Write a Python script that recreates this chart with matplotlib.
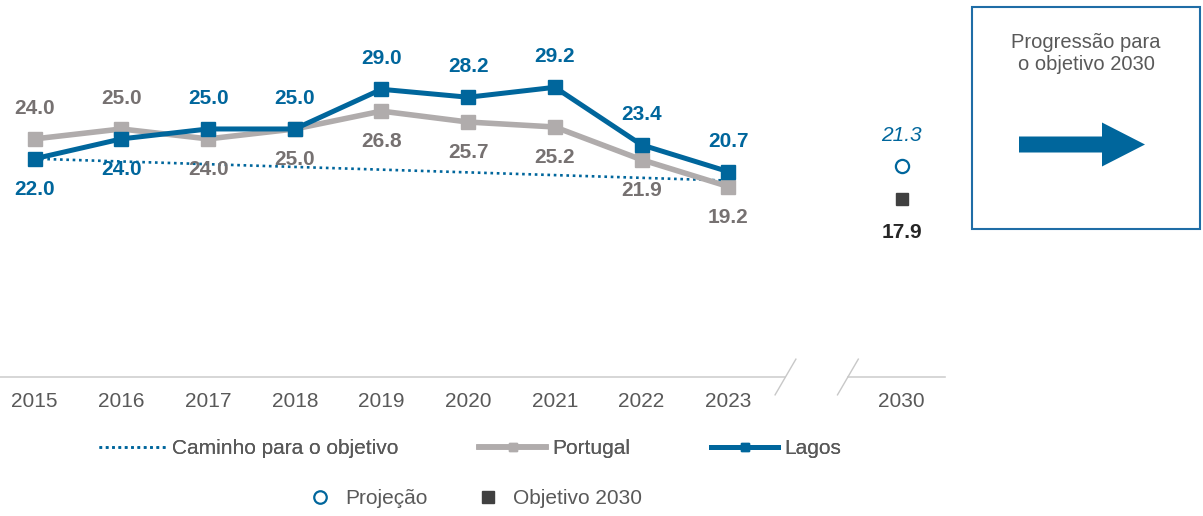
"""
Lagos vs Portugal indicator, 2015-2023, with the 2030 projection and target.
"""

import matplotlib
matplotlib.use("Agg")
import matplotlib.pyplot as plt
from matplotlib.lines import Line2D
from matplotlib.patches import Rectangle, FancyArrow


PALETTE = {
    "lagos":    "#00669C",
    "portugal": "#B0ACAC",
    "pt_text":  "#767171",
    "target":   "#404040",
    "axis":     "#D0D0D0",
    "text":     "#595959",
}

plt.rcParams.update({
    "font.family": ["Liberation Sans", "DejaVu Sans"],
    "font.size": 15,
})

W, H = 1203, 516

# ---------------------------------------------------------------------------
# Data
# ---------------------------------------------------------------------------

YEARS = ["2015", "2016", "2017", "2018", "2019", "2020", "2021", "2022", "2023"]
LAGOS = [22.0, 24.0, 25.0, 25.0, 29.0, 28.2, 29.2, 23.4, 20.7]
PORTUGAL = [24.0, 25.0, 24.0, 25.0, 26.8, 25.7, 25.2, 21.9, 19.2]
PATH_YEARS = ["2015", "2023"]
PATH_VALUES = [22.0, 19.8]
TARGET_YEAR = "2030"
PROJECTION_2030 = 21.3
TARGET_2030 = 17.9

DOTTED = (0, (1, 1.4))


def main() -> None:
    fig = plt.figure(figsize=(W / 100, H / 100), dpi=100)
    ax = fig.add_axes([0, 1 - 377 / H, 945 / W, 377 / H])

    x = list(range(len(YEARS)))
    x_path = [YEARS.index(y) for y in PATH_YEARS]
    x_2030 = len(YEARS) + 1

    ax.plot(x_path, PATH_VALUES, color=PALETTE["lagos"], lw=1.9,
            linestyle=DOTTED, zorder=2)
    ax.plot(x, PORTUGAL, color=PALETTE["portugal"], lw=4, marker="s",
            markersize=10, zorder=3)
    ax.plot(x, LAGOS, color=PALETTE["lagos"], lw=3.6, marker="s",
            markersize=10, zorder=4)
    ax.plot([x_2030], [PROJECTION_2030], linestyle="none", marker="o",
            markersize=9.5, markerfacecolor="white",
            markeredgecolor=PALETTE["lagos"], markeredgewidth=1.6, zorder=4)
    ax.plot([x_2030], [TARGET_2030], linestyle="none", marker="s",
            markersize=8.5, color=PALETTE["target"], zorder=4)

    # value labels: Lagos above when it leads, Portugal on the other side
    off = 22
    for i, (lg, pt) in enumerate(zip(LAGOS, PORTUGAL)):
        up = lg >= pt
        ax.annotate(f"{lg:.1f}", (i, lg), xytext=(0, off if up else -off),
                    textcoords="offset points", ha="center", va="center",
                    color=PALETTE["lagos"], fontweight="bold", fontsize=15)
        ax.annotate(f"{pt:.1f}", (i, pt), xytext=(0, -off if up else off),
                    textcoords="offset points", ha="center", va="center",
                    color=PALETTE["pt_text"], fontweight="bold", fontsize=15)
    ax.annotate(f"{PROJECTION_2030:.1f}", (x_2030, PROJECTION_2030),
                xytext=(0, off), textcoords="offset points", ha="center",
                va="center", color=PALETTE["lagos"], style="italic", fontsize=15)
    ax.annotate(f"{TARGET_2030:.1f}", (x_2030, TARGET_2030),
                xytext=(0, -24), textcoords="offset points", ha="center",
                va="center", color="#262626", fontweight="bold", fontsize=15)

    ax.set_xlim(-0.4, 10.5)
    ax.set_ylim(0, 38)
    for s in ax.spines.values():
        s.set_visible(False)
    ax.set_yticks([])
    ax.set_xticks(x + [x_2030], YEARS + [TARGET_YEAR])
    ax.tick_params(axis="x", length=0, pad=11, colors=PALETTE["text"],
                   labelsize=15)

    # broken axis line between 2023 and 2030
    brk = [8.66, 9.38]
    ax.plot([-0.4, brk[0]], [0, 0], color=PALETTE["axis"], lw=1.2, clip_on=False)
    ax.plot([brk[1], 10.5], [0, 0], color=PALETTE["axis"], lw=1.2, clip_on=False)
    for b in brk:
        ax.plot([b - 0.12, b + 0.12], [-1.8, 1.8], color="#C8C8C8", lw=1,
                clip_on=False)

    # legends
    leg1 = [
        Line2D([], [], color=PALETTE["lagos"], lw=1.9, linestyle=DOTTED,
               label="Caminho para o objetivo"),
        Line2D([], [], color=PALETTE["portugal"], lw=4, marker="s",
               markersize=6, label="Portugal"),
        Line2D([], [], color=PALETTE["lagos"], lw=3.6, marker="s",
               markersize=6, label="Lagos"),
    ]
    l1 = fig.legend(handles=leg1, loc="center", bbox_to_anchor=(470 / W, 1 - 449 / H),
                    ncol=3, frameon=False, fontsize=15, handlelength=3.2,
                    handletextpad=0.3, columnspacing=3.9, labelcolor=PALETTE["text"])
    leg2 = [
        Line2D([], [], linestyle="none", marker="o", markersize=9,
               markerfacecolor="white", markeredgecolor=PALETTE["lagos"],
               markeredgewidth=1.6, label="Projeção"),
        Line2D([], [], linestyle="none", marker="s", markersize=9,
               color=PALETTE["target"], label="Objetivo 2030"),
    ]
    fig.legend(handles=leg2, loc="center", bbox_to_anchor=(476 / W, 1 - 499 / H),
               ncol=2, frameon=False, fontsize=15, handlelength=1.0,
               handletextpad=0.7, columnspacing=2.4, labelcolor=PALETTE["text"])
    fig.add_artist(l1)

    # side box with the progress arrow
    ov = fig.add_axes([0, 0, 1, 1])
    ov.set_xlim(0, W)
    ov.set_ylim(H, 0)
    ov.axis("off")
    ov.add_patch(Rectangle((972, 7), 228, 222, fill=False,
                           edgecolor="#1F6DA6", lw=1.5))
    ov.text(1086, 54, "Progressão para\no objetivo 2030", ha="center",
            va="center", fontsize=14.5, color=PALETTE["text"], linespacing=1.2)
    ov.add_patch(FancyArrow(1019, 144.5, 126, 0, width=16, head_width=44,
                            head_length=43, length_includes_head=True,
                            color=PALETTE["lagos"], lw=0))

    fig.savefig("out.png", dpi=100, facecolor="white")
    plt.close(fig)


if __name__ == "__main__":
    main()
